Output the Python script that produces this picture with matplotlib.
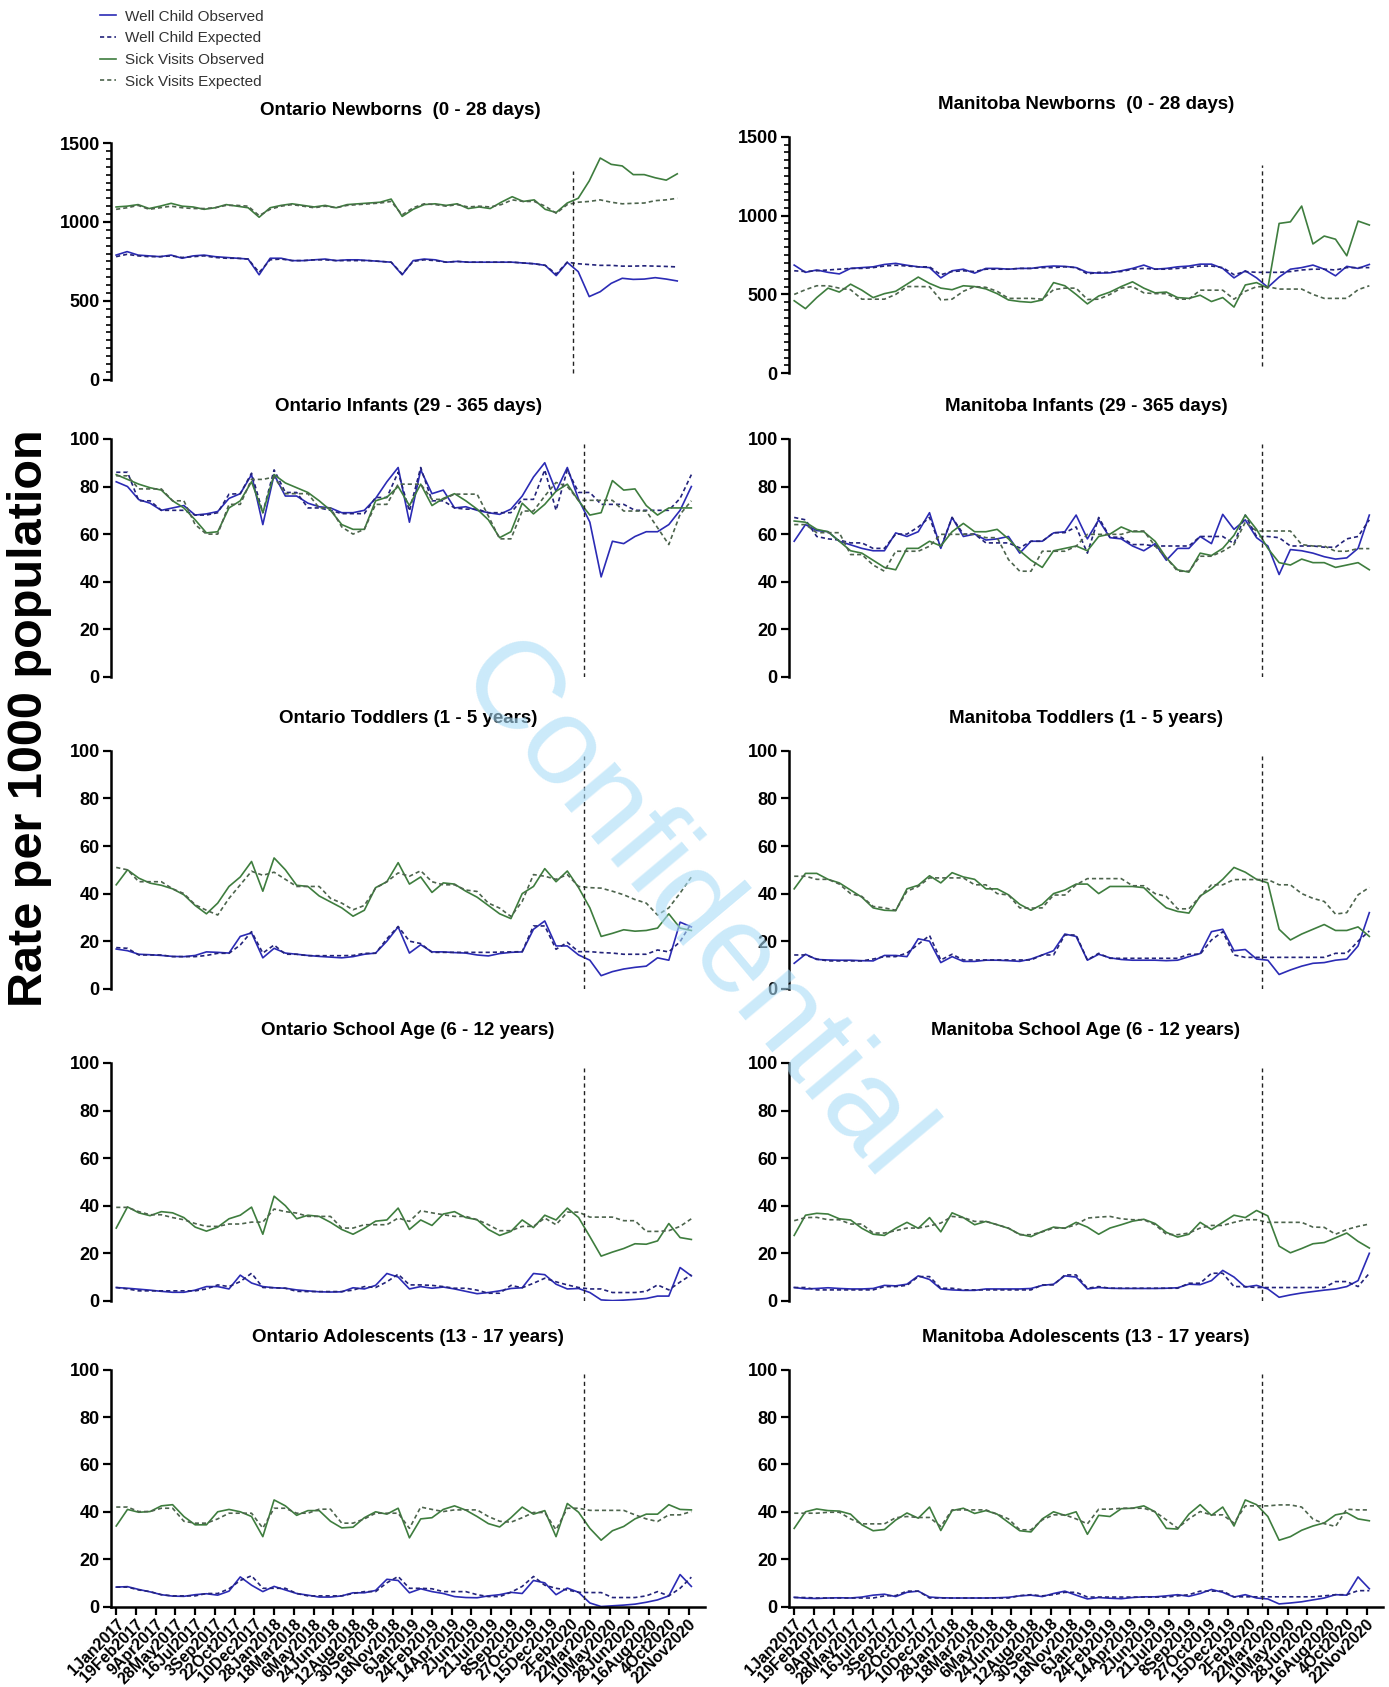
import numpy as np
import pandas as pd
import matplotlib
matplotlib.use("Agg")
from matplotlib import pyplot as plt
from matplotlib.ticker import MultipleLocator

plt.rcParams["font.family"] = ["Liberation Sans", "DejaVu Sans"]

# 4-weekly points from 1 Jan 2017
dates = pd.date_range("2017-01-01", periods=52, freq="28D")
lockdown = pd.Timestamp("2020-03-08")

tick_labels = ["1Jan2017", "19Feb2017", "9Apr2017", "28May2017", "16Jul2017", "3Sep2017",
               "22Oct2017", "10Dec2017", "28Jan2018", "18Mar2018", "6May2018", "24Jun2018",
               "12Aug2018", "30Sep2018", "18Nov2018", "6Jan2019", "24Feb2019", "14Apr2019",
               "2Jun2019", "21Jul2019", "8Sep2019", "27Oct2019", "15Dec2019", "2Feb2020",
               "22Mar2020", "10May2020", "28Jun2020", "16Aug2020", "4Oct2020", "22Nov2020"]

# ---- Ontario newborns
on_nb_well_obs = [790,812,790,785,780,790,770,785,790,780,775,770,765,665,770,770,755,755,760,765,755,760,760,755,750,745,665,755,765,760,745,750,745,745,745,745,745,740,735,725,660,744,685,527,558,611,643,636,638,647,638,626]
on_nb_well_exp = [780,795,785,780,780,785,775,780,785,775,770,770,765,680,760,765,755,755,760,760,755,755,755,755,750,745,670,750,760,755,745,750,745,745,745,745,745,740,735,725,670,745,735,730,725,725,720,720,722,720,718,715]
on_nb_sick_obs = [1095,1100,1110,1085,1100,1118,1100,1095,1080,1090,1110,1100,1090,1030,1090,1105,1115,1105,1095,1105,1090,1110,1115,1120,1125,1145,1035,1080,1110,1115,1105,1115,1085,1095,1085,1125,1160,1130,1140,1080,1060,1120,1150,1260,1405,1365,1355,1300,1300,1280,1265,1305]
on_nb_sick_exp = [1080,1090,1105,1080,1090,1100,1090,1085,1085,1090,1105,1105,1100,1040,1080,1100,1110,1100,1090,1100,1090,1105,1110,1115,1120,1130,1045,1090,1115,1110,1100,1110,1095,1100,1095,1110,1140,1130,1130,1100,1055,1110,1125,1130,1140,1125,1115,1118,1120,1135,1140,1150]

# ---- Manitoba newborns
mb_nb_well_obs = [686,640,655,640,630,665,670,675,690,697,685,675,670,605,650,660,635,665,665,660,665,665,675,680,678,670,640,635,637,650,665,686,660,665,675,680,692,692,665,605,650,605,545,610,660,670,686,660,618,678,665,690]
mb_nb_well_exp = [650,645,650,655,660,665,665,670,680,685,680,675,675,625,645,650,645,660,660,660,665,665,670,670,675,670,630,640,640,645,660,665,660,660,665,670,680,680,670,625,645,640,640,640,645,655,660,660,655,670,670,670]
mb_nb_sick_obs = [460,410,480,540,515,565,527,480,505,520,565,610,570,540,530,555,550,535,505,465,455,450,465,575,555,500,440,490,515,550,580,540,510,515,480,475,495,455,480,420,560,575,540,950,960,1060,820,870,850,745,965,940]
mb_nb_sick_exp = [500,530,555,555,540,530,470,470,470,500,550,550,549,465,470,520,550,545,520,475,475,475,470,530,540,540,468,470,500,540,550,510,505,505,470,470,527,527,527,470,520,549,549,534,534,534,500,475,475,475,530,555]

# ---- Ontario infants
on_inf_well_obs = [82,80,74.5,73,70,71,72,68,68.5,69.5,75,77,85,64,85,76,76,73,71.5,71,69,69,70,75,82,88,65,87,77,78.5,71,71.5,70,69,68.3,70.5,76,84,90,78,88,74.6,65,42,57,56,59,61,61,64,70,80]
on_inf_well_exp = [86,86,74,74,70,70,70,68,68,69,76.8,77,85.6,69,87,77.5,77.5,71,71,70,68.6,68.6,68.6,75.4,75.4,86,69.7,88,74,74,71,70.5,70.5,69,69,69,74.6,74.6,87,70,87,77.5,77.5,72.5,72.5,72.5,70,70,70,70,75,85]
on_inf_sick_obs = [85,83,81,79.5,78.5,74,71,66,60.5,61,71,74,82,69,85,81.5,79.5,77.5,74,70,64,62,62,74,75.5,80,72,81,72,75,77,74,70.5,66,58.5,61,73,68.5,72.5,78,81,74,68,69,82.5,78.5,79,72,68,71,71,71]
on_inf_sick_exp = [84.5,84.5,79,79,79,74,74,64,60,60,72.5,72.5,83,83,84,77,77,77,71,71,63,60,62,72.5,72.5,81,81,81,74.6,74.6,76.8,76.8,76.8,67.6,58,58,69.7,69.7,76,81.7,80,74.2,74.2,74.2,74.2,69.7,69.7,69.7,62.7,55.6,68.3,74]

# ---- Manitoba infants
mb_inf_well_obs = [57,64,61.5,61,57,55.5,54,53,53,60.5,59,61,69,54,67,59,60,57.5,58,59,52,57,57,60.5,61,68,58,66,58.5,58,55,53,56,49,54,54,59,56,68.3,62,66,58.5,55,43,53.5,53,52,50.5,49.5,50,54,68]
mb_inf_well_exp = [67,66,59,58,57.5,56.3,56.3,54,54,60,60,63,67,54.2,67,60,60,56.3,56.3,56.3,54.2,57,57,60.6,60.6,63,52,67,58.7,58.7,55.6,55.6,55,55,55,55,59,59,59,56,68,59,59,58.5,55,55,55,54.5,54.5,58,59,66]
mb_inf_sick_obs = [65.5,65,62,61,57,53,52,49,46,45,54,54,57,55,61,64.5,61,61,62,58,53,49,46,53,54,55,53,59,60,63,61,61,57,50,45,44,52,51,54,59.5,68,62,54,48,47,49.5,48,48,46,47,48,45]
mb_inf_sick_exp = [64,64,60.6,60.6,60.6,51.4,51.4,47,44.4,52.8,52.8,52.8,54.9,59.9,59.9,59.9,59.9,58.5,58.5,49.3,44.4,44.4,52.8,52.8,52.8,54.9,59.9,59.9,59.9,59.9,61.3,61.3,55,50,44.4,44.4,50.7,50.7,52.8,55.6,65,61.3,61.3,61.3,61.3,55.6,55,55,52.8,52.8,53.9,53.9]

# ---- Ontario toddlers
on_tod_well_obs = [16.7,16,14.5,14.3,14,13.6,13.5,14,15.5,15.3,15,22,23.5,13,17,15,14.5,14,13.6,13.3,13,13.5,14.5,15,20,26,15,18.5,15.5,15.5,15.2,15,14.2,13.8,14.8,15.3,15.5,25,28.5,18,18,14.2,12,5.5,7.2,8.3,9,9.5,13,12,28,26]
on_tod_well_exp = [17.3,17,14.2,14.2,14.2,13.5,13.5,13.5,14,14.9,14.9,18.4,24,15,18.4,14.5,14.5,13.9,13.9,13.9,13.9,14,14.9,14.9,21,26.2,20,19,15.3,15.3,15.3,15.3,15.3,15.3,15.4,15.5,15.6,26.4,26.4,16.6,19.5,15.6,15.6,15.2,15,14.5,14.5,14.5,16.3,15.5,19.8,27.6]
on_tod_sick_obs = [43.7,50,46.5,44.4,43.5,42,39.5,35,31.5,36,43,47,53.5,41,55,50,43.5,43,39,36.5,34,30.5,33,42.5,45,53,44,47,40.5,44.5,44,41,38.5,35,31.5,29.5,40,43,50.5,45,49.5,42.5,34,22,23.3,24.8,24.2,24.5,25.5,31.5,25.5,24.5]
on_tod_sick_exp = [51,50,45,45,45,42,40,35.3,33,31,38,43.7,49.4,47.7,49,46,43,43,43,38,36,33.2,35,42.3,45,48.7,47.3,49.6,45,43.7,43.7,41.5,40.9,36,33.9,30.4,36.7,48,47.3,46,48,43,42.5,42.3,41,39.5,37.5,36,31,34,40.2,47]

# ---- Manitoba toddlers
mb_tod_well_obs = [10.7,14.5,12.3,12.1,12,12,11.8,11.7,14,14,13.5,21,20,11,13.5,11.5,11.5,12,12,11.8,11.5,12.5,14.2,16,23,22,12,14.5,13,12.3,12,12,12,11.8,12,13.5,14.8,24,25,16,16.5,12.5,12,6,7.9,9.5,10.7,11,12,12.5,18,32]
mb_tod_well_exp = [14.2,14.2,12.5,11.7,11.7,11.7,11.7,12.5,13.5,13.5,15,18.7,22.4,12.1,14.5,12.1,12.1,12.1,12.1,12.1,12.1,12.1,14.2,14.2,22.6,22.6,12.1,14.9,12.8,12.8,12.8,12.8,12.8,12.8,12.8,14.5,14.5,20.5,24,14.2,13.2,13.2,13.2,13.2,13.2,13.2,13.2,13.2,14.9,14.9,20,24.3]
mb_tod_sick_obs = [42,48.5,48.5,46,44.5,41.5,38.5,34,33,32.8,42,43.5,47.5,44.5,48.8,47,46,42,42,39.5,35.5,33,35.5,40,41.5,44,44,40,43,43,43,42.5,38,34,32.5,31.8,39,42,46,51,49,46,44.5,25,20.5,23,25,27,24.5,24.5,26,22]
mb_tod_sick_exp = [47.3,47.3,46,46,44,40,38.8,34.6,34,33,41,43,46.6,46.6,46.6,46.6,43.7,43.7,40,39.4,34,33.9,34,39.4,39.4,43.7,46.3,46.3,46.3,46.3,43.3,43.3,40,38.8,33.6,33.6,38.8,43.7,43.7,45.9,45.9,45.9,45.9,43.7,43.7,40,38,36.7,31.4,32,39.5,42.6]

# ---- Ontario school age
on_sch_well_obs = [5.6,5.3,4.9,4.5,4,3.6,3.6,4.5,6,6,5,10.8,7.5,6,5.5,5.3,4.6,4.2,3.8,3.7,3.8,5.5,5,6.5,11.5,10,5,6,5.3,5.8,5,4,3,3.5,4.2,5.2,5.5,11.5,11,7,5,5.2,3.5,0.4,0.1,0.3,0.6,1,2,2,14,10.5]
on_sch_well_exp = [5.6,5,4.2,4.2,4.2,4.2,4.2,4.2,5,6.7,6,8.1,11.6,5.6,5.5,5.3,4,3.9,3.9,3.9,3.9,4.5,6,5.6,8,11.2,6.7,6.7,6.5,6,5.3,5.3,4.5,3.2,3.2,6.5,5.5,7.4,9.5,8,6.7,5.6,5,5,3.5,3.5,3.5,4,6.7,4.6,7.9,11]
on_sch_sick_obs = [30.6,39.5,37,35.8,37.5,37,35,31,29.3,31,34.5,36,39.4,28,44,40,34.5,36,35.5,33,30,28,30.5,33.5,34,39,30,34,31.7,36.5,37.5,35,34.1,30,27.5,29.2,34,30.8,36,34,39,35,27,18.8,20.5,22,24,23.8,25.2,32.5,26.6,25.8]
on_sch_sick_exp = [39.3,39.3,37.5,36.2,36.2,35,34.1,32.5,31.3,31.3,32.3,32.3,33.1,33.1,38.6,37.5,36.9,35.5,35.5,35.5,30.6,30.6,32,32,32,34.8,33.4,37.9,37,36.2,35.5,35.5,34.1,32,29.5,29.5,31.3,31.3,34.8,32,37.3,37.3,35.2,35.2,35.2,33.7,33.7,29.2,29.2,29.5,31.3,34.5]

# ---- Manitoba school age
mb_sch_well_obs = [5.6,5,5.2,5.5,5.2,5,5,5.2,6.5,6.3,7,10.5,9,5,4.6,4.4,4.4,5,5,5,5,5.2,6.5,7,10.5,10,5,5.6,5.3,5.2,5.2,5.2,5.2,5.3,5.5,7,6.8,8.5,12.8,10,5.8,6.5,5,1.5,2.5,3.3,3.9,4.5,5,6,8.5,20]
mb_sch_well_exp = [5.6,5.6,4.6,4.6,4.6,4.6,4.6,4.6,6,6,6.5,10.2,10.2,5.3,5.3,4.6,4.6,4.6,4.6,4.6,4.6,4.6,6.7,6.7,10.9,10.9,5.3,6,5.3,5.3,5.3,5.3,5.3,5.3,5.3,7.4,7.4,11.6,11.6,6,6,5.6,5.6,5.6,5.6,5.6,5.6,5.6,8.1,8.1,6,11.6]
mb_sch_sick_obs = [27.5,36,36.8,36.5,34.5,34,30.5,28,27.5,30.5,33,30.5,35,29,37,35,32,33.4,32,30.5,28,27,29.2,31,30.5,33,31,28,30.6,32,33.5,34.3,32.5,28.8,26.8,28,33,30,33,36,35,38,35.7,23,20.2,22,24,24.5,26.5,28.5,25,22.2]
mb_sch_sick_exp = [33.7,35,35.1,34.1,34.1,32.3,32.3,28.5,28.5,29.5,30.6,30.6,31.5,32.7,35.5,35,33.4,33.4,32,30.6,27.8,27.8,29,30.6,30.6,32,34.8,35.2,35.5,34.5,34.1,34.1,32,28,27.8,28.5,30.6,31.7,31.7,33,34.1,34.1,33,33,33,33,31,30.9,28,30,31.3,32.3]

# ---- Ontario adolescents
on_ado_well_obs = [8.2,8.4,7.2,6.2,5,4.4,4.3,5,5.4,4.8,6.5,12.5,9,6.3,8.5,7,5.5,4.8,4,4,4.5,5.8,5.8,6.8,11.5,11,5.8,7.5,6.3,5.5,4.2,3.8,3.7,4.5,5,6,5.5,11,10,5,7.8,6,1.5,0,0.3,0.6,1,1.8,2.8,4.5,13.5,8.5]
on_ado_well_exp = [8.2,8.2,7,6.3,5,4.5,4.5,4.5,5.5,5.5,7.5,11,13,7.7,7.7,7.7,5.5,4.5,4.5,4.5,4.5,5.5,6.3,6.3,10,12.7,7.7,7.7,7.5,6.3,6.3,6.3,5,4.2,4.2,6,8.5,12.7,9,7.7,7,6,5.9,5.9,3.8,3.8,3.8,4.5,6.3,4.5,7.7,12.4]
on_ado_sick_obs = [34,41,39.8,40.1,42.5,43,38,34.5,34.5,40,41,40,38,29.5,45,42.5,38.5,40.5,40.5,36,33.2,33.5,37.5,40,39,41.5,29,37,37.5,41,42.5,40.7,38,35,33.6,37.5,42,39,40.5,29.5,43.5,39.8,33,28,32,33.8,37,39,39,43,41,40.8]
on_ado_sick_exp = [42,42,40.1,40.1,41.5,41.5,36,35.2,35.2,37,39.4,39.4,39.4,33.1,41.5,41.5,39.4,39.4,41.1,41.1,35.2,35.2,37,39.4,39.4,39.4,33,42,41,40.1,40.8,40.8,40.8,38,36,35.6,37.5,39.7,39.7,32.4,41.5,41.5,40.6,40.6,40.6,40.6,38.7,37,35.9,38.7,38.7,40.1]

# ---- Manitoba adolescents
mb_ado_well_obs = [3.9,3.5,3.4,3.6,3.7,3.6,4,4.8,5.2,4.2,6,6.5,4,3.7,3.6,3.6,3.6,3.6,3.7,3.9,4.5,4.8,4.2,5.5,6.5,4.8,3.2,3.8,3.5,3.3,3.8,4.1,4.1,4.5,5,4.3,5.5,7.2,6,4,5,3.6,3.2,1.1,1.5,2,2.8,3.6,5,4.8,12.5,7.5]
mb_ado_well_exp = [3.8,3.8,3.6,3.6,3.6,3.6,3.6,3.6,4.5,4.6,6.5,6.5,3.6,3.6,3.6,3.6,3.6,3.6,3.6,3.6,4.6,5,4.5,5,6,6,4,4,4,4,4,4,4,4,4.5,5,6.5,6.5,6.5,4.1,4.1,4.1,4.1,4.1,4.1,4.1,4.1,4.5,5,5,6.7,6.7]
mb_ado_sick_obs = [33,40,41.2,40.5,40.3,39,34.5,32,32.5,36.5,39.5,37.3,42,32.1,40.5,41.5,39.3,40.5,39,35.5,32,31.5,37,40,38.5,40,30.5,38.5,38,41.3,41.5,42.5,40,33,32.7,39,43,38.5,42,34,45,43,38,28,29.5,32.2,34,35.3,38.7,39.6,37,36.2]
mb_ado_sick_exp = [39.4,39.4,39.4,39.8,39.8,37,34.9,34.9,34.9,37.5,38,37.6,37.6,33.8,40.8,40.8,40.8,40.8,39,37,32.4,32.4,36.6,38.7,38.7,37,34.9,41.1,41.1,41.5,41.5,41.5,40,36.6,33.1,37,40.1,38.7,38.7,35.2,42.5,42.5,42.5,42.9,42.9,42,36.9,35,33.8,41.1,40.8,40.8]

panels = [
    ("Ontario Newborns  (0 - 28 days)", on_nb_well_obs, on_nb_well_exp, on_nb_sick_obs, on_nb_sick_exp),
    ("Manitoba Newborns  (0 - 28 days)", mb_nb_well_obs, mb_nb_well_exp, mb_nb_sick_obs, mb_nb_sick_exp),
    ("Ontario Infants (29 - 365 days)", on_inf_well_obs, on_inf_well_exp, on_inf_sick_obs, on_inf_sick_exp),
    ("Manitoba Infants (29 - 365 days)", mb_inf_well_obs, mb_inf_well_exp, mb_inf_sick_obs, mb_inf_sick_exp),
    ("Ontario Toddlers (1 - 5 years)", on_tod_well_obs, on_tod_well_exp, on_tod_sick_obs, on_tod_sick_exp),
    ("Manitoba Toddlers (1 - 5 years)", mb_tod_well_obs, mb_tod_well_exp, mb_tod_sick_obs, mb_tod_sick_exp),
    ("Ontario School Age (6 - 12 years)", on_sch_well_obs, on_sch_well_exp, on_sch_sick_obs, on_sch_sick_exp),
    ("Manitoba School Age (6 - 12 years)", mb_sch_well_obs, mb_sch_well_exp, mb_sch_sick_obs, mb_sch_sick_exp),
    ("Ontario Adolescents (13 - 17 years)", on_ado_well_obs, on_ado_well_exp, on_ado_sick_obs, on_ado_sick_exp),
    ("Manitoba Adolescents (13 - 17 years)", mb_ado_well_obs, mb_ado_well_exp, mb_ado_sick_obs, mb_ado_sick_exp),
]

# axes boxes in figure fraction (left, bottom, width, height)
boxes = [
    (0.0799, 0.7749, 0.4173, 0.1403), (0.568, 0.7787, 0.4277, 0.1403),
    (0.0799, 0.5988, 0.4277, 0.1410), (0.568, 0.5988, 0.4277, 0.1410),
    (0.0799, 0.4139, 0.4277, 0.1410), (0.568, 0.4139, 0.4277, 0.1410),
    (0.0799, 0.2289, 0.4277, 0.1410), (0.568, 0.2289, 0.4277, 0.1410),
    (0.0799, 0.0477, 0.4277, 0.1404), (0.568, 0.0477, 0.4277, 0.1404),
]

c_well = "#2b2bb5"
c_well_exp = "#23237a"
c_sick = "#3e7d3e"
c_sick_exp = "#4d644d"

fig = plt.figure(figsize=(13.89, 16.87), dpi=100)

axes = []
for n, (title, wo, we, so, se) in enumerate(panels):
    ax = fig.add_axes(boxes[n])
    axes.append(ax)
    newborn = n < 2
    bottom = n >= 8

    ax.plot(dates, wo, color=c_well, lw=1.2, label="Well Child Observed")
    ax.plot(dates, we, color=c_well_exp, lw=1.2, linestyle=(0, (2.5, 1.8)), label="Well Child Expected")
    ax.plot(dates, so, color=c_sick, lw=1.2, label="Sick Visits Observed")
    ax.plot(dates, se, color=c_sick_exp, lw=1.2, linestyle=(0, (2.5, 1.8)), label="Sick Visits Expected")

    if newborn:
        ax.axvline(lockdown, ymin=0.03, ymax=0.88, color="#222222", lw=1.0, linestyle=(0, (3, 2.5)))
    else:
        ax.axvline(lockdown, ymin=0, ymax=0.98, color="#222222", lw=1.0, linestyle=(0, (3, 2.5)))

    ax.set_xlim(pd.Timestamp("2016-12-19"), pd.Timestamp("2021-01-02"))
    if newborn:
        ax.set_ylim(0, 1500)
        ax.set_yticks([0, 500, 1000, 1500])
        ax.yaxis.set_minor_locator(MultipleLocator(50))
    else:
        ax.set_ylim(0, 100)
        ax.set_yticks([0, 20, 40, 60, 80, 100])

    ax.spines["top"].set_visible(False)
    ax.spines["right"].set_visible(False)
    ax.spines["left"].set_linewidth(1.8)
    ax.spines["bottom"].set_linewidth(1.8)
    ax.tick_params(axis="y", which="major", labelsize=13, width=1.6, length=6, pad=2)
    ax.tick_params(axis="y", which="minor", width=1.2, length=3.5)
    for lbl in ax.get_yticklabels():
        lbl.set_fontweight("bold")

    if bottom:
        ticks = pd.to_datetime(tick_labels, format="%d%b%Y")
        ax.set_xticks(ticks)
        ax.set_xticklabels(tick_labels, rotation=45, ha="right", rotation_mode="anchor",
                           fontsize=11.5, fontweight="bold")
        ax.tick_params(axis="x", width=1.6, length=6, pad=1)
    else:
        ax.spines["bottom"].set_visible(False)
        ax.set_xticks([])

    ax.set_title(title, fontsize=13.5, fontweight="bold", pad=20)

handles, labels = axes[0].get_legend_handles_labels()
leg = fig.legend(handles, labels, loc="upper left", bbox_to_anchor=(0.070, 0.996), frameon=False,
                 fontsize=11, handlelength=1.0, handletextpad=0.6, labelspacing=0.5,
                 borderpad=0.2, borderaxespad=0)
for t in leg.get_texts():
    t.set_color("#333333")

fig.text(0.021, 0.574, "Rate per 1000 population", rotation=90, fontsize=35, fontweight="bold",
         ha="center", va="center")

# watermark
fig.text(0.497, 0.459, "Confidential", rotation=-50, fontsize=90, color="#a9dcf7", alpha=0.6,
         ha="center", va="center", zorder=10)

fig.savefig("out.png", dpi=100)
